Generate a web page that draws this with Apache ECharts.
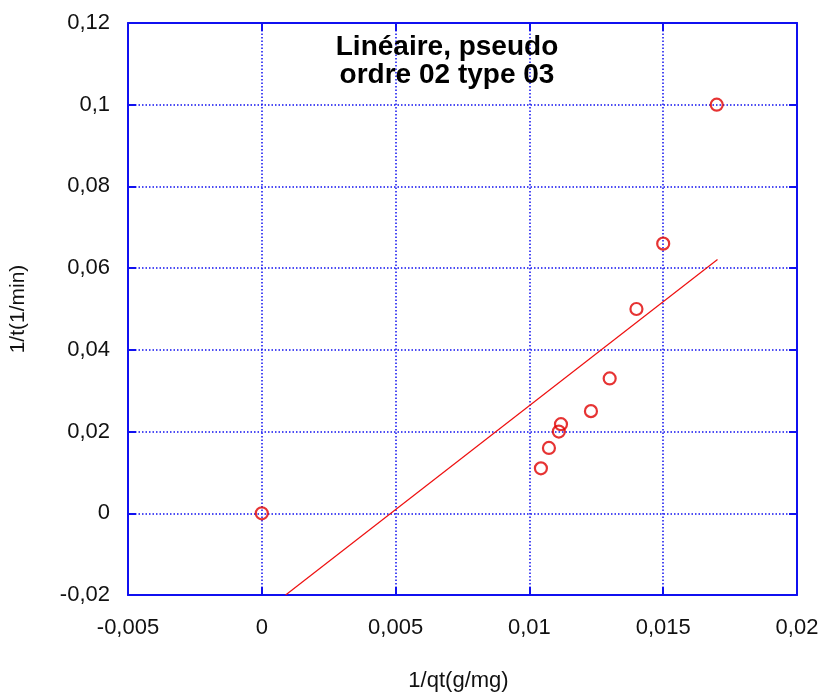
<!DOCTYPE html>
<html>
<head>
<meta charset="utf-8">
<script src="https://cdn.jsdelivr.net/npm/echarts@6/dist/echarts.min.js"></script>
<style>
  html, body { margin: 0; padding: 0; background: #fff; }
  #chart { width: 822px; height: 697px; }
</style>
</head>
<body>
<div id="chart"></div>
<script>
// Measured points: 1/qt (g/mg) against 1/t (1/min)
const invQt = [0, 0.01043, 0.01073, 0.0111, 0.01118, 0.0123, 0.0130, 0.0140, 0.0150, 0.0170];
const invT  = [0, 0.011, 0.016, 0.020, 0.0218, 0.025, 0.033, 0.050, 0.066, 0.100];

// Linear fit drawn as a straight segment between its two ends
const fitX = [0.00089, 0.01703];
const fitY = [-0.0200, 0.0621];

// Axis ranges and steps
const xMin = -0.005, xMax = 0.02, xStep = 0.005;
const yMin = -0.02, yMax = 0.12, yStep = 0.02;

const titleLines = ['Linéaire, pseudo', 'ordre 02 type 03'];
const xName = '1/qt(g/mg)';
const yName = '1/t(1/min)';

const blue = '#1010f0';
const font = 'Liberation Sans, Arial, sans-serif';
const fmt = v => String(parseFloat(v.toFixed(4))).replace('.', ',');

const frameAxis = {
  axisLine: { show: true, onZero: false, lineStyle: { color: blue, width: 2 } },
  axisTick: { show: true, inside: true, length: 8, lineStyle: { color: blue, width: 2 } }
};

const chart = echarts.init(document.getElementById('chart'), null, { renderer: 'canvas' });
chart.setOption({
  animation: false,
  backgroundColor: '#fff',
  textStyle: { fontFamily: font },
  title: {
    text: titleLines.join('\n'),
    left: 442, top: 28, textAlign: 'center',
    textStyle: { fontFamily: font, fontSize: 28, fontWeight: 'bold', color: '#000', lineHeight: 28 }
  },
  grid: { left: 126, right: 25, top: 23, bottom: 99, containLabel: false },
  xAxis: [
    Object.assign({
      type: 'value', min: xMin, max: xMax, interval: xStep, position: 'bottom',
      name: xName, nameLocation: 'middle', nameGap: 75,
      nameTextStyle: { fontSize: 22, color: '#111', fontFamily: font, padding: [0, 8, 0, 0] },
      axisLabel: { formatter: fmt, fontSize: 22, color: '#111', margin: 22 },
      splitLine: { show: true, lineStyle: { color: blue, type: [1.5, 2], width: 1.5 } }
    }, frameAxis),
    Object.assign({
      type: 'value', min: xMin, max: xMax, interval: xStep, position: 'top',
      axisLabel: { show: false }, splitLine: { show: false }
    }, frameAxis)
  ],
  yAxis: [
    Object.assign({
      type: 'value', min: yMin, max: yMax, interval: yStep, position: 'left',
      name: yName, nameLocation: 'middle', nameGap: 99, nameRotate: 90,
      nameTextStyle: { fontSize: 21, color: '#111', fontFamily: font },
      axisLabel: { formatter: fmt, fontSize: 22, color: '#111', margin: 18 },
      splitLine: { show: true, lineStyle: { color: blue, type: [1.5, 2], width: 1.5 } }
    }, frameAxis),
    Object.assign({
      type: 'value', min: yMin, max: yMax, interval: yStep, position: 'right',
      axisLabel: { show: false }, splitLine: { show: false }
    }, frameAxis)
  ],
  series: [
    {
      type: 'line',
      data: fitX.map((x, i) => [x, fitY[i]]),
      showSymbol: false,
      symbol: 'none',
      lineStyle: { color: '#ee1010', width: 1.2 },
      silent: true,
      z: 3
    },
    {
      type: 'scatter',
      data: invQt.map((x, i) => [x, invT[i]]),
      symbol: 'circle',
      symbolSize: 12,
      itemStyle: { color: 'rgba(0,0,0,0)', borderColor: '#e00000', borderWidth: 2.2 },
      z: 4
    }
  ]
});
</script>
</body>
</html>
